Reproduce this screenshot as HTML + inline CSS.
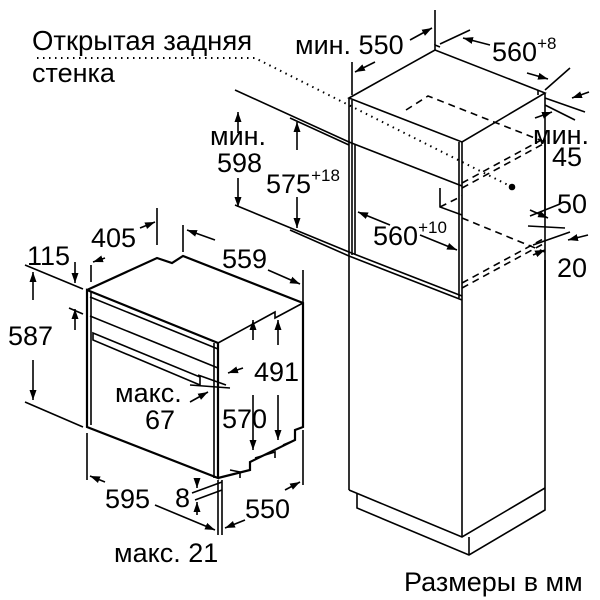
<!DOCTYPE html>
<html><head><meta charset="utf-8"><style>
body{margin:0;background:#fff}
svg{display:block}
text{font-family:"Liberation Sans",sans-serif;fill:#000}
</style></head><body>
<svg width="600" height="600" viewBox="0 0 600 600" xmlns="http://www.w3.org/2000/svg">
<defs>
<marker id="a" viewBox="0 0 10 10" refX="10" refY="5" markerWidth="10" markerHeight="10" orient="auto-start-reverse" markerUnits="userSpaceOnUse"><path d="M0,1.5 L10,5 L0,8.5 z" fill="#000"/></marker>
</defs>
<g fill="none" stroke="#000" stroke-width="1.6">
<path d="M37,58 L255,58 L512,187" stroke-dasharray="1.5,4.5" stroke-width="2"/>
<circle cx="512" cy="187" r="2.5" fill="#000"/>
<path d="M349,98 L435,50 L545,93 L462,142 Z"/>
<path d="M349,98 L349,490"/>
<path d="M352,100 L352,255"/>
<path d="M462,142 L462,537"/>
<path d="M459,142 L459,298"/>
<path d="M545,93 L545,488"/>
<path d="M349,142 L462,186"/>
<path d="M355,145 L355,255"/>
<path d="M440,188 L440,207 L462,215"/>
<path d="M349,252 L462,296 M349,256 L462,300"/>
<path d="M435,50 L435,45 L440,47" />
<path d="M538,90 L538,95"/>
<g stroke-dasharray="7,5">
<path d="M406,110 L428,96 L545,142"/>
<path d="M462,183 L545,138 M462,188 L545,143"/>
<path d="M440,207 L462,196 M462,218 L545,252"/>
<path d="M462,283 L545,238 M462,288 L545,243"/>
</g>
<path d="M349,490 L462,537 L545,488"/>
<path d="M357,493 L357,508 L469,555 L545,510 L545,488"/>
<path d="M469,537 L469,555"/>
<path d="M235,90 L349,142 M235,205 L349,252"/>
<path d="M290,118 L349,145 M290,230 L349,256"/>
<path d="M238,133 L238,112" marker-end="url(#a)"/>
<path d="M238,178 L238,207" marker-end="url(#a)"/>
<path d="M297,150 L297,122" marker-end="url(#a)"/>
<path d="M297,197 L297,228" marker-end="url(#a)"/>
<path d="M352,62 L352,95 M435,10 L435,45"/>
<path d="M375,62 L355,72" marker-end="url(#a)"/>
<path d="M410,40 L432,28" marker-end="url(#a)"/>
<path d="M440,44 L470,30 M545,90 L570,68"/>
<path d="M490,45 L463,38" marker-end="url(#a)"/>
<path d="M527,73 L548,79" marker-end="url(#a)"/>
<path d="M545,98 L585,112 M545,105 L575,120"/>
<path d="M589,92 L572,98" marker-end="url(#a)"/>
<path d="M535,118 L552,112" marker-end="url(#a)"/>
<path d="M545,140 L545,215 M545,260 L545,300"/>
<path d="M530,216 L560,204 M528,226 L565,228 M533,245 L570,232"/>
<path d="M530,210 L548,218" marker-end="url(#a)"/>
<path d="M588,235 L568,240" marker-end="url(#a)"/>
<path d="M533,255 L545,250" marker-end="url(#a)"/>
<path d="M390,225 L358,212" marker-end="url(#a)"/>
<path d="M420,235 L457,250" marker-end="url(#a)"/>
<g stroke-width="2.2">
<path d="M87,290 L218,343 L218,478 L87,427 Z"/>
<path d="M87,290 L157,258 L172,263 L183,256 L303,303 L303,427 L295,430 L295,440 L250,462 L250,470 L218,478"/>
</g>
<path d="M91,292 L91,425"/>
<path d="M214,343 L214,478"/>
<path d="M90,297 L218,349 M90,316 L218,368 M218,343 L275,312 L275,318 L303,303"/>
<path d="M93,333 L200,377 L200,385 L93,340 Z"/>
<path d="M230,470 L240,472 L240,478 M255,458 L275,452 L275,458 M283,445 L295,440"/>
<path d="M25,265 L83,289 M25,402 L83,427"/>
<path d="M33,300 L33,272" marker-end="url(#a)"/>
<path d="M33,360 L33,400" marker-end="url(#a)"/>
<path d="M75,262 L75,283" marker-end="url(#a)"/>
<path d="M75,330 L75,309" marker-end="url(#a)"/>
<path d="M69,308 L83,314"/>
<path d="M91,282 L91,265 M157,208 L157,245"/>
<path d="M105,258 L93,262" marker-end="url(#a)"/>
<path d="M140,228 L155,222" marker-end="url(#a)"/>
<path d="M183,225 L183,252 M303,270 L303,303"/>
<path d="M215,240 L187,230" marker-end="url(#a)"/>
<path d="M268,270 L300,284" marker-end="url(#a)"/>
<path d="M253,340 L253,320" marker-end="url(#a)"/>
<path d="M253,395 L253,450" marker-end="url(#a)"/>
<path d="M278,345 L278,320" marker-end="url(#a)"/>
<path d="M278,395 L278,440" marker-end="url(#a)"/>
<path d="M243,368 L228,373" marker-end="url(#a)"/>
<path d="M190,385 L230,388 M198,375 L226,385"/>
<path d="M190,402 L208,392" marker-end="url(#a)"/>
<path d="M87,433 L87,480 M218,480 L218,535 M222,480 L222,535 M303,430 L303,485"/>
<path d="M105,482 L90,476" marker-end="url(#a)"/>
<path d="M155,505 L215,530" marker-end="url(#a)"/>
<path d="M197,480 L197,488" marker-end="url(#a)"/>
<path d="M197,515 L197,502" marker-end="url(#a)"/>
<path d="M192,493 L222,482 M195,500 L222,490"/>
<path d="M245,520 L225,528" marker-end="url(#a)"/>
<path d="M285,490 L300,482" marker-end="url(#a)"/>
</g>
<g font-size="27">
<text x="32" y="50" font-size="27.5">Открытая задняя</text>
<text x="32" y="82">стенка</text>
<text x="295" y="54">мин. 550</text>
<text x="492" y="61">560<tspan font-size="17" dy="-12">+8</tspan></text>
<text x="533" y="144">мин.</text>
<text x="552" y="166">45</text>
<text x="210" y="145">мин.</text>
<text x="217" y="172">598</text>
<text x="266" y="193">575<tspan font-size="17" dy="-12">+18</tspan></text>
<text x="373" y="245">560<tspan font-size="17" dy="-12">+10</tspan></text>
<text x="557" y="213">50</text>
<text x="557" y="277">20</text>
<text x="27" y="265">115</text>
<text x="91" y="247">405</text>
<text x="222" y="268">559</text>
<text x="8" y="345">587</text>
<text x="254" y="381">491</text>
<text x="115" y="402">макс.</text>
<text x="145" y="429">67</text>
<text x="222" y="428">570</text>
<text x="105" y="508">595</text>
<text x="175" y="507">8</text>
<text x="245" y="518">550</text>
<text x="114" y="562">макс. 21</text>
<text x="404" y="591">Размеры в мм</text>
</g>
</svg>
</body></html>
